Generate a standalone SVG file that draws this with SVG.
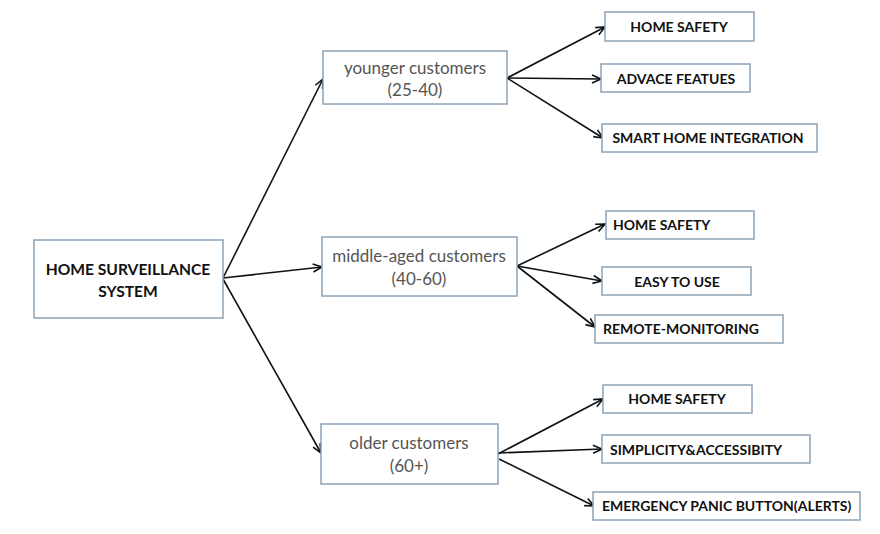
<svg xmlns="http://www.w3.org/2000/svg" width="880" height="534" viewBox="0 0 880 534">
<defs>
<marker id="arr" markerUnits="userSpaceOnUse" markerWidth="12" markerHeight="10" refX="9" refY="4" orient="auto" overflow="visible">
<path d="M0,0 L9,4 L0,8" fill="none" stroke="#111" stroke-width="1.6"/>
</marker>
</defs>
<style>
rect{fill:#fff;stroke:#8fa3b5;stroke-width:1.5}
.b{font-family:Lato,"Liberation Sans",sans-serif;font-weight:bold;font-size:14px;fill:#111}
.r{font-family:Lato,"Liberation Sans",sans-serif;font-size:17px;fill:#555}
.c line{stroke:#111;stroke-width:1.6;marker-end:url(#arr)}
.m{text-anchor:middle}
</style>
<rect x="0" y="0" width="880" height="534" style="fill:#fff;stroke:none"/>
<g class="c" id="connectors">
<line x1="223" y1="278" x2="323" y2="79"/>
<line x1="223" y1="278" x2="322" y2="267"/>
<line x1="223" y1="279" x2="321" y2="453"/>
<line x1="507" y1="78" x2="605" y2="27"/>
<line x1="507" y1="78" x2="601" y2="79"/>
<line x1="507" y1="78" x2="603" y2="138"/>
<line x1="517" y1="266" x2="605" y2="224"/>
<line x1="517" y1="266" x2="602" y2="281"/>
<line x1="517" y1="266" x2="595" y2="327"/>
<line x1="498" y1="454" x2="603" y2="399"/>
<line x1="498" y1="453" x2="602" y2="449"/>
<line x1="499" y1="459" x2="594" y2="506"/>
</g>
<g id="root"><rect x="34" y="240" width="189" height="78"/>
<text class="b m" x="128" y="275" style="font-size:15.6px">HOME SURVEILLANCE</text>
<text class="b m" x="128" y="297" style="font-size:15.6px">SYSTEM</text></g>
<g id="young"><rect x="323" y="51" width="184" height="53"/>
<text class="r m" x="415" y="74">younger customers</text>
<text class="r m" x="415" y="96">(25-40)</text></g>
<g id="middle"><rect x="322" y="237" width="195" height="59"/>
<text class="r m" x="419" y="262">middle-aged customers</text>
<text class="r m" x="419" y="285">(40-60)</text></g>
<g id="older"><rect x="321" y="424" width="177" height="60"/>
<text class="r m" x="409" y="449">older customers</text>
<text class="r m" x="409" y="472">(60+)</text></g>
<g id="y1"><rect x="605" y="12" width="149" height="29"/><text class="b m" x="679" y="32">HOME SAFETY</text></g>
<g id="y2"><rect x="601" y="64" width="149" height="28"/><text class="b m" x="676" y="84">ADVACE FEATUES</text></g>
<g id="y3"><rect x="602" y="124" width="215" height="28"/><text class="b m" x="708" y="143">SMART HOME INTEGRATION</text></g>
<g id="m1"><rect x="606" y="211" width="148" height="28"/><text class="b" x="613" y="230">HOME SAFETY</text></g>
<g id="m2"><rect x="602" y="267" width="149" height="28"/><text class="b m" x="677" y="287">EASY TO USE</text></g>
<g id="m3"><rect x="595" y="315" width="188" height="28"/><text class="b" x="603" y="334">REMOTE-MONITORING</text></g>
<g id="o1"><rect x="603" y="385" width="149" height="28"/><text class="b m" x="677" y="404">HOME SAFETY</text></g>
<g id="o2"><rect x="602" y="435" width="208" height="28"/><text class="b" x="610" y="455">SIMPLICITY&amp;ACCESSIBITY</text></g>
<g id="o3"><rect x="593" y="492" width="267" height="28"/><text class="b" x="602" y="511">EMERGENCY PANIC BUTTON(ALERTS)</text></g>
</svg>
